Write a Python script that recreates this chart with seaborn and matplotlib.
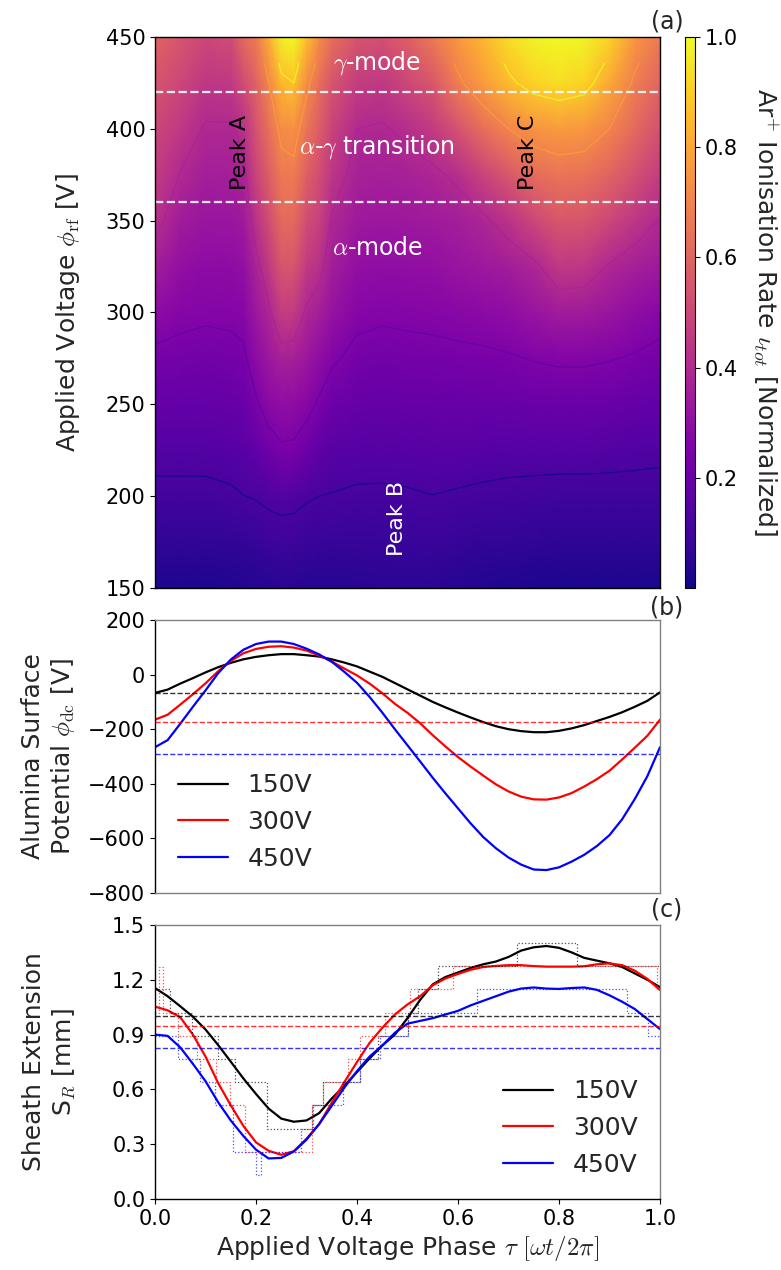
import numpy as np
import pandas as pd
import matplotlib
matplotlib.use("Agg")
import matplotlib.pyplot as plt
from matplotlib.patches import Rectangle
import seaborn as sns

# ---------------------------------------------------------------------------
# (a) Normalised Ar+ ionisation rate vs. phase and applied voltage
# ---------------------------------------------------------------------------
phase_cols = [0.0, 0.05, 0.10, 0.15, 0.175, 0.20, 0.225, 0.25, 0.275, 0.30,
              0.325, 0.35, 0.40, 0.45, 0.50, 0.55, 0.60, 0.65, 0.70, 0.75,
              0.80, 0.85, 0.90, 0.95, 1.0]
voltage_rows = [150, 175, 200, 225, 250, 275, 300, 325, 350, 375, 400, 425, 450]

rate_150 = [0.027, 0.027, 0.027, 0.03, 0.033, 0.037, 0.04, 0.043, 0.043, 0.04, 0.04, 0.04, 0.043,
            0.05, 0.05, 0.047, 0.04, 0.033, 0.03, 0.027, 0.023, 0.023, 0.023, 0.023, 0.023]
rate_175 = [0.063, 0.063, 0.063, 0.067, 0.073, 0.08, 0.087, 0.09, 0.09, 0.083, 0.08, 0.077, 0.077,
            0.08, 0.08, 0.083, 0.077, 0.07, 0.067, 0.063, 0.06, 0.06, 0.06, 0.06, 0.06]
rate_200 = [0.103, 0.103, 0.103, 0.11, 0.119, 0.124, 0.134, 0.142, 0.138, 0.127, 0.12, 0.117, 0.11,
            0.11, 0.113, 0.119, 0.113, 0.107, 0.103, 0.10, 0.097, 0.097, 0.097, 0.097, 0.097]
rate_225 = [0.142, 0.142, 0.142, 0.149, 0.16, 0.178, 0.214, 0.239, 0.236, 0.207, 0.171, 0.156, 0.149,
            0.145, 0.149, 0.153, 0.153, 0.149, 0.145, 0.145, 0.145, 0.145, 0.142, 0.138, 0.134]
rate_250 = [0.185, 0.181, 0.181, 0.189, 0.199, 0.239, 0.283, 0.30, 0.296, 0.275, 0.239, 0.207, 0.189,
            0.185, 0.189, 0.189, 0.192, 0.192, 0.192, 0.196, 0.199, 0.199, 0.196, 0.185, 0.178]
rate_275 = [0.232, 0.225, 0.221, 0.225, 0.236, 0.292, 0.333, 0.367, 0.362, 0.333, 0.30, 0.262, 0.228,
            0.221, 0.225, 0.228, 0.232, 0.236, 0.243, 0.254, 0.262, 0.262, 0.254, 0.243, 0.228]
rate_300 = [0.292, 0.271, 0.262, 0.267, 0.275, 0.333, 0.383, 0.467, 0.458, 0.387, 0.358, 0.317, 0.271,
            0.262, 0.267, 0.271, 0.279, 0.287, 0.30, 0.321, 0.35, 0.346, 0.325, 0.30, 0.279]
rate_325 = [0.358, 0.308, 0.292, 0.296, 0.308, 0.375, 0.45, 0.55, 0.55, 0.458, 0.425, 0.358, 0.308,
            0.30, 0.304, 0.308, 0.321, 0.337, 0.354, 0.383, 0.45, 0.442, 0.392, 0.362, 0.342]
rate_350 = [0.425, 0.35, 0.325, 0.329, 0.342, 0.433, 0.517, 0.617, 0.617, 0.525, 0.483, 0.392, 0.342,
            0.333, 0.337, 0.346, 0.358, 0.383, 0.433, 0.50, 0.558, 0.55, 0.50, 0.442, 0.396]
rate_375 = [0.467, 0.396, 0.358, 0.362, 0.375, 0.492, 0.575, 0.667, 0.675, 0.583, 0.525, 0.442, 0.371,
            0.362, 0.371, 0.383, 0.417, 0.492, 0.558, 0.625, 0.65, 0.642, 0.60, 0.533, 0.467]
rate_400 = [0.50, 0.45, 0.392, 0.392, 0.425, 0.542, 0.633, 0.724, 0.738, 0.65, 0.575, 0.492, 0.40,
            0.392, 0.417, 0.458, 0.542, 0.633, 0.70, 0.747, 0.766, 0.757, 0.70, 0.617, 0.533]
rate_425 = [0.55, 0.50, 0.442, 0.45, 0.517, 0.592, 0.70, 0.842, 0.87, 0.724, 0.633, 0.55, 0.467,
            0.45, 0.50, 0.558, 0.683, 0.766, 0.851, 0.909, 0.935, 0.909, 0.804, 0.683, 0.60]
rate_450 = [0.60, 0.55, 0.50, 0.517, 0.617, 0.667, 0.813, 0.974, 1.0, 0.86, 0.728, 0.633, 0.55,
            0.533, 0.583, 0.667, 0.757, 0.842, 0.935, 0.987, 1.0, 0.987, 0.909, 0.757, 0.667]

contour_levels = [0.12, 0.25, 0.40, 0.70, 0.87]
contour_top = 436
mode_boundaries = [420, 360]

# ---------------------------------------------------------------------------
# (b) Alumina surface potential and (c) sheath extension over one rf cycle
# ---------------------------------------------------------------------------
phase = [0.0, 0.025, 0.05, 0.075, 0.1, 0.125, 0.15, 0.175, 0.2, 0.225, 0.25,
         0.275, 0.3, 0.325, 0.35, 0.375, 0.4, 0.425, 0.45, 0.475, 0.5,
         0.525, 0.55, 0.575, 0.6, 0.625, 0.65, 0.675, 0.7, 0.725, 0.75,
         0.775, 0.8, 0.825, 0.85, 0.875, 0.9, 0.925, 0.95, 0.975, 1.0]
voltages = ["150V", "300V", "450V"]
line_colors = ["black", "red", "blue"]

phi_dc_150 = [-67, -55, -33, -13, 8, 27, 43, 56, 65, 71, 75, 75, 71, 66, 56, 44, 30, 11, -8, -31,
              -54, -77, -100, -120, -139, -157, -174, -189, -200, -207, -211, -211, -206, -197,
              -185, -170, -155, -138, -118, -96, -65]
phi_dc_300 = [-165, -147, -110, -72, -32, 12, 50, 78, 94, 102, 104, 99, 88, 70, 48, 22, -3, -33,
              -68, -107, -140, -178, -222, -263, -302, -337, -370, -402, -428, -447, -457, -458,
              -450, -434, -410, -383, -352, -311, -268, -224, -165]
phi_dc_450 = [-266, -240, -180, -118, -58, 5, 55, 91, 112, 121, 121, 112, 95, 74, 47, 10, -30,
              -82, -139, -200, -259, -318, -378, -435, -490, -545, -595, -636, -670, -696, -714,
              -716, -706, -685, -660, -628, -588, -530, -456, -372, -266]
phi_dc_mean = [-68, -174, -290]

sheath_150 = [1.155, 1.11, 1.055, 0.998, 0.928, 0.843, 0.752, 0.66, 0.575, 0.495, 0.44, 0.423,
              0.43, 0.47, 0.55, 0.62, 0.695, 0.77, 0.84, 0.9, 0.99, 1.09, 1.175, 1.215, 1.24,
              1.265, 1.285, 1.30, 1.325, 1.36, 1.378, 1.385, 1.375, 1.35, 1.32, 1.305, 1.29,
              1.27, 1.235, 1.20, 1.16]
sheath_300 = [1.053, 1.033, 0.995, 0.9, 0.78, 0.635, 0.513, 0.4, 0.31, 0.264, 0.242, 0.262, 0.33,
              0.41, 0.527, 0.64, 0.75, 0.855, 0.937, 1.01, 1.065, 1.11, 1.17, 1.207, 1.232, 1.255,
              1.27, 1.276, 1.28, 1.28, 1.275, 1.272, 1.272, 1.272, 1.274, 1.285, 1.29, 1.28, 1.25,
              1.205, 1.144]
sheath_450 = [0.9, 0.893, 0.83, 0.74, 0.645, 0.53, 0.43, 0.345, 0.27, 0.222, 0.225, 0.26, 0.325,
              0.41, 0.51, 0.61, 0.7, 0.78, 0.84, 0.91, 0.96, 0.975, 0.99, 1.01, 1.03, 1.06, 1.085,
              1.11, 1.135, 1.152, 1.158, 1.152, 1.15, 1.155, 1.158, 1.145, 1.115, 1.08, 1.04,
              0.985, 0.93]
sheath_mean = [1.0, 0.945, 0.825]

# binned (stepwise) sheath edge: bin start phase and sheath width
bins_150_phase = [0.0, 0.030, 0.073, 0.125, 0.158, 0.221, 0.310, 0.333, 0.405, 0.442, 0.500,
                  0.520, 0.561, 0.716, 0.835, 1.0]
bins_150_width = [1.15, 1.02, 0.895, 0.765, 0.64, 0.385, 0.515, 0.64, 0.765, 0.895, 1.02,
                  1.15, 1.275, 1.40, 1.275, 1.275]
bins_300_phase = [0.0, 0.008, 0.016, 0.045, 0.083, 0.120, 0.148, 0.178, 0.310, 0.333, 0.383,
                  0.406, 0.455, 0.505, 0.590, 0.995, 1.0]
bins_300_width = [1.02, 1.27, 1.02, 0.895, 0.765, 0.64, 0.515, 0.26, 0.515, 0.64, 0.765,
                  0.895, 1.02, 1.15, 1.275, 1.15, 1.15]
bins_450_phase = [0.0, 0.046, 0.089, 0.119, 0.155, 0.200, 0.210, 0.290, 0.313, 0.373, 0.406,
                  0.445, 0.500, 0.637, 0.934, 0.977, 1.0]
bins_450_width = [0.895, 0.765, 0.64, 0.515, 0.26, 0.13, 0.26, 0.385, 0.515, 0.64, 0.765,
                  0.895, 1.02, 1.15, 1.02, 0.895, 0.895]

# ---------------------------------------------------------------------------
sns.set_style("ticks")
plt.rcParams.update({
    "font.family": ["DejaVu Sans"],
    "mathtext.fontset": "cm",
    "axes.edgecolor": "black",
    "axes.linewidth": 1.0,
    "xtick.color": "black",
    "ytick.color": "black",
    "xtick.direction": "out",
    "ytick.direction": "out",
    "xtick.labelsize": 15,
    "ytick.labelsize": 15,
    "axes.labelsize": 18,
})

W, H = 781, 1270
fig = plt.figure(figsize=(W / 100, H / 100), dpi=100)


def px_axes(left, top, right, bottom):
    return fig.add_axes([left / W, 1 - bottom / H, (right - left) / W, (bottom - top) / H])


ax_a = px_axes(155, 37, 660, 588)
cax = px_axes(685, 37, 695, 588)
ax_b = px_axes(155, 620, 660, 893)
ax_c = px_axes(155, 925, 660, 1199)

# ---- (a) heat map --------------------------------------------------------
rate = np.array([rate_150, rate_175, rate_200, rate_225, rate_250, rate_275, rate_300,
                 rate_325, rate_350, rate_375, rate_400, rate_425, rate_450])
mesh = ax_a.pcolormesh(phase_cols, voltage_rows, rate, shading="gouraud",
                       cmap="plasma", vmin=0.0, vmax=1.0, rasterized=True)
cs = ax_a.contour(phase_cols, voltage_rows, rate, levels=contour_levels, cmap="plasma",
                  linewidths=0.8, alpha=0.9)
clip = Rectangle((0, 150), 1, contour_top - 150, transform=ax_a.transData)
cs.set_clip_path(clip)
for v in mode_boundaries:
    ax_a.axhline(v, color="white", ls="--", lw=1.6, alpha=0.9)

ax_a.set_xlim(0, 1)
ax_a.set_ylim(150, 450)
ax_a.set_yticks(range(150, 451, 50))
ax_a.set_xticks([])
ax_a.set_ylabel(r"Applied Voltage $\phi_{\rm rf}$ [V]")
ax_a.yaxis.set_label_coords(-0.145, 0.5)

ax_a.text(0.44, 436, r"$\gamma$-mode", color="white", fontsize=17, ha="center", va="center")
ax_a.text(0.44, 390, r"$\alpha$-$\gamma$ transition", color="white", fontsize=17,
          ha="center", va="center")
ax_a.text(0.44, 335, r"$\alpha$-mode", color="white", fontsize=17, ha="center", va="center")
ax_a.text(0.168, 387, "Peak A", color="black", fontsize=16, rotation=90,
          ha="center", va="center")
ax_a.text(0.739, 387, "Peak C", color="black", fontsize=16, rotation=90,
          ha="center", va="center")
ax_a.text(0.479, 188, "Peak B", color="white", fontsize=16, rotation=90,
          ha="center", va="center")

cbar = fig.colorbar(mesh, cax=cax, ticks=[0.2, 0.4, 0.6, 0.8, 1.0])
cbar.outline.set_linewidth(0.8)
cax.tick_params(labelsize=15)
cbar.set_label(r"Ar$^{+}$ Ionisation Rate $\iota_{tot}$ [Normalized]", fontsize=18,
               rotation=270, va="bottom")
cax.yaxis.set_label_coords(6.6, 0.5)

# ---- (b) surface potential ----------------------------------------------
pot = pd.DataFrame({"phase": phase * 3,
                    "phi": phi_dc_150 + phi_dc_300 + phi_dc_450,
                    "voltage": [v for v in voltages for _ in phase]})
sns.lineplot(data=pot, x="phase", y="phi", hue="voltage", palette=line_colors,
             lw=1.6, ax=ax_b, legend=False)
for m, c in zip(phi_dc_mean, line_colors):
    ax_b.axhline(m, color=c, ls="--", lw=1.0, alpha=0.8)
ax_b.set_xlim(0, 1)
ax_b.set_ylim(-800, 200)
ax_b.set_yticks(range(-800, 201, 200))
ax_b.set_xticks([])
ax_b.set_xlabel("")
ax_b.set_ylabel("Alumina Surface\n" + r"Potential $\phi_{\rm dc}$ [V]")
ax_b.yaxis.set_label_coords(-0.155, 0.5)
handles_b = [plt.Line2D([], [], color=c, lw=1.6) for c in line_colors]
ax_b.legend(handles_b, voltages, loc="lower left", frameon=False, fontsize=18)

# ---- (c) sheath extension -----------------------------------------------
sheath = pd.DataFrame({"phase": phase * 3,
                       "s": sheath_150 + sheath_300 + sheath_450,
                       "voltage": [v for v in voltages for _ in phase]})
sns.lineplot(data=sheath, x="phase", y="s", hue="voltage", palette=line_colors,
             lw=1.6, ax=ax_c, legend=False)
for px_, wd, c in zip([bins_150_phase, bins_300_phase, bins_450_phase],
                      [bins_150_width, bins_300_width, bins_450_width], line_colors):
    ax_c.plot(px_, wd, color=c, ls=":", lw=0.9, alpha=0.7, drawstyle="steps-post")
for m, c in zip(sheath_mean, line_colors):
    ax_c.axhline(m, color=c, ls="--", lw=1.0, alpha=0.8)
ax_c.set_xlim(0, 1)
ax_c.set_ylim(0, 1.5)
ax_c.set_yticks([0.0, 0.3, 0.6, 0.9, 1.2, 1.5])
ax_c.set_yticklabels(["0.0", "0.3", "0.6", "0.9", "1.2", "1.5"])
ax_c.set_xticks([0.0, 0.2, 0.4, 0.6, 0.8, 1.0])
ax_c.set_xticklabels(["0.0", "0.2", "0.4", "0.6", "0.8", "1.0"])
ax_c.set_xlabel(r"Applied Voltage Phase $\tau\ [\omega t/2\pi]$")
ax_c.set_ylabel("Sheath Extension\n" + r"S$_R$ [mm]")
ax_c.yaxis.set_label_coords(-0.155, 0.5)
handles_c = [plt.Line2D([], [], color=c, lw=1.6) for c in line_colors]
ax_c.legend(handles_c, voltages, loc="lower right", frameon=False, fontsize=18)

for ax in (ax_b, ax_c):
    for side in ("top", "right"):
        ax.spines[side].set_color("0.5")
    ax.spines["left"].set_color("black")
ax_b.spines["bottom"].set_color("0.5")
for ax in (ax_a, ax_b, ax_c):
    for side in ("top", "right", "bottom", "left"):
        ax.spines[side].set_visible(True)

# panel tags
for ax, tag, dy in ((ax_a, "(a)", 4), (ax_b, "(b)", 0), (ax_c, "(c)", 3)):
    ax.annotate(tag, xy=(1.0, 1.0), xycoords="axes fraction", xytext=(7, dy),
                textcoords="offset pixels", ha="center", va="bottom", fontsize=17)

fig.savefig("out.png", dpi=100)
